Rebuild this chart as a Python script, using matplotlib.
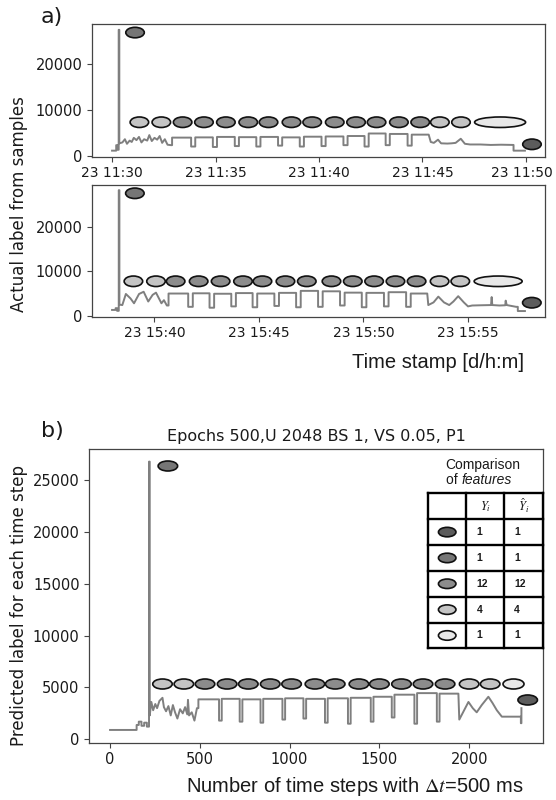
import matplotlib
matplotlib.use("Agg")
import matplotlib.pyplot as plt
from matplotlib.patches import Ellipse
from matplotlib.transforms import ScaledTranslation
from matplotlib.lines import Line2D

# ------------------------------------------------------------------ data
# Panel a (top): minutes after 11:00 on day 23
ta_head_x = [30.00, 30.20, 30.20, 30.27, 30.27, 30.32, 30.32, 30.35, 30.35, 30.50, 30.62, 30.72,
             30.85, 30.95, 31.05, 31.18, 31.30, 31.42, 31.55, 31.70, 31.80, 31.92, 32.05, 32.18,
             32.30, 32.42, 32.55, 32.68, 32.85]
ta_head_y = [1100, 1100, 2300, 2300, 1300, 1300, 27500, 27500, 2700, 2900, 3600, 2600,
             3300, 3000, 3900, 3400, 4100, 2900, 3600, 3300, 4500, 3200, 3900, 3500,
             4300, 2800, 3600, 2400, 2300]
ta_rise = [32.90, 34.02, 35.07, 36.13, 37.17, 38.22, 39.27, 40.32, 41.38, 42.40, 43.42, 44.48]
ta_drop = [33.82, 34.87, 35.93, 36.97, 38.02, 39.07, 40.12, 41.18, 42.20, 43.22, 44.28, 45.30]
ta_level = [3950, 4000, 4100, 4050, 4100, 4000, 4150, 4200, 4300, 4850, 4750, 4600]
ta_low = [2000, 1900, 2100, 2000, 2200, 2000, 2100, 2300, 2000, 2300, 2200]
ta_tail_x = [45.40, 45.55, 45.75, 45.90, 46.20, 46.40, 46.60, 46.85, 47.05, 47.30, 47.80, 48.30,
             48.80, 49.40, 49.40, 49.95]
ta_tail_y = [3000, 2800, 3500, 2700, 2650, 2700, 2800, 3700, 2600, 2450, 2450, 2350,
             2400, 2350, 1100, 1100]
ta_ell_x = [31.32, 32.38, 33.41, 34.44, 35.50, 36.58, 37.56, 38.67, 39.67, 40.76, 41.79, 42.78,
            43.86, 44.89, 45.84, 46.86, 48.75, 31.11, 50.29]
ta_ell_y = [7310] * 17 + [26900, 2490]
ta_ell_cls = [3, 3] + [2] * 12 + [3, 3, 4, 1, 0]
ta_xticks = [30, 35, 40, 45, 50]
ta_xticklabels = ['23 11:30', '23 11:35', '23 11:40', '23 11:45', '23 11:50']

# Panel a (bottom): minutes after 15:00 on day 23
tb_head_x = [37.98, 38.15, 38.15, 38.22, 38.22, 38.30, 38.30, 38.33, 38.33, 38.47, 38.64, 38.86,
             39.03, 39.27, 39.49, 39.71, 39.92, 40.08, 40.34, 40.46, 40.60]
tb_head_y = [1300, 1300, 1700, 1700, 1100, 1100, 28300, 28300, 2500, 2400, 4900, 3900,
             2800, 4900, 5400, 3200, 4700, 5200, 2800, 3500, 2300]
tb_rise = [40.68, 41.84, 42.86, 43.90, 44.92, 45.96, 47.00, 48.05, 49.10, 50.14, 51.20, 52.26]
tb_drop = [41.62, 42.64, 43.68, 44.70, 45.74, 46.78, 47.83, 48.88, 49.92, 50.98, 52.04, 53.05]
tb_level = [5000, 5050, 4950, 5100, 5000, 5150, 5600, 5500, 5200, 5150, 5300, 5000]
tb_low = [2000, 1800, 2100, 1900, 2200, 1900, 2000, 2300, 1900, 2100, 2000]
tb_tail_x = [53.10, 53.35, 53.58, 53.85, 54.10, 54.30, 54.53, 54.80, 55.00, 55.20, 55.60, 56.10,
             56.13, 56.16, 56.50, 56.78, 56.80, 56.85, 57.30, 57.38, 57.38, 57.72]
tb_tail_y = [2400, 3000, 4300, 3000, 2400, 3200, 4400, 3000, 2100, 2300, 2350, 2400,
             4200, 2400, 2300, 2350, 3400, 2400, 2000, 2000, 1050, 1050]
tb_ell_x = [39.00, 40.08, 41.02, 42.12, 43.17, 44.24, 45.17, 46.27, 47.29, 48.47, 49.49, 50.51,
            51.53, 52.54, 53.64, 54.63, 56.44, 39.07, 58.05]
tb_ell_y = [7760] * 17 + [27600, 2930]
tb_ell_cls = [3, 3] + [2] * 12 + [3, 3, 4, 1, 0]
tb_xticks = [40, 45, 50, 55]
tb_xticklabels = ['23 15:40', '23 15:45', '23 15:50', '23 15:55']

# Panel b: time step index (dt = 500 ms)
pb_head_x = [0, 148, 148, 160, 160, 175, 175, 190, 190, 205, 205, 217, 217, 221, 221, 230, 240,
             252, 262, 275, 292, 300, 312, 325, 338, 350, 362, 375, 390, 405, 418, 430, 434,
             440, 455, 470, 484]
pb_head_y = [900, 900, 1380, 1380, 1700, 1700, 1300, 1300, 1600, 1600, 1220, 1220, 26770, 26770,
             2300, 3600, 2800, 3400, 3000, 3700, 4000, 3100, 2700, 3200, 2300, 3300, 2600, 2000,
             2900, 2500, 3100, 2400, 3800, 2300, 2600, 1800, 3000]
pb_rise = [492, 622, 737, 853, 975, 1092, 1212, 1340, 1467, 1584, 1710, 1835]
pb_drop = [607, 722, 838, 960, 1077, 1197, 1325, 1452, 1569, 1695, 1820, 1940]
pb_level = [3850, 3900, 3850, 3900, 3950, 3900, 3950, 4000, 4100, 4300, 4450, 4400]
pb_low = [1800, 1700, 1600, 1900, 2000, 1600, 1500, 1700, 2100, 1500, 1700]
pb_tail_x = [1945, 1960, 1996, 2020, 2042, 2070, 2107, 2130, 2154, 2182, 2288, 2288, 2291, 2291]
pb_tail_y = [1900, 2400, 3600, 3000, 2600, 3300, 4100, 3500, 2800, 2180, 2180, 1550, 1550, 3000]
pb_ell_x = [292, 411, 529, 652, 770, 892, 1011, 1141, 1254, 1386, 1500, 1623, 1743, 1866,
            2000, 2117, 2247, 322, 2326]
pb_ell_y = [5330] * 17 + [26350, 3790]
pb_ell_cls = [3, 3] + [2] * 12 + [3, 3, 4, 1, 0]
pb_xticks = [0, 500, 1000, 1500, 2000]
pb_yticks = [0, 5000, 10000, 15000, 20000, 25000]

# Comparison table
feat_Y = [1, 1, 12, 4, 1]
feat_Yhat = [1, 1, 12, 4, 1]
feat_colors = ['#5c5c5c', '#767676', '#8c8c8c', '#c4c4c4', '#e8e8e8']

title_b = 'Epochs 500,U 2048 BS 1, VS 0.05, P1'

# ------------------------------------------------------------------ helpers
W, H, DPI = 556, 800, 100
fig = plt.figure(figsize=(W / DPI, H / DPI), dpi=DPI)
TXT = '#1a1a1a'
LINE = '#7f7f7f'


def build(head_x, head_y, rise, drop, level, low, tail_x, tail_y):
    xs, ys = list(head_x), list(head_y)
    prev = ys[-1]
    for i in range(len(rise)):
        xs += [rise[i], rise[i], drop[i]]
        ys += [prev, level[i], level[i]]
        if i < len(low):
            xs.append(drop[i])
            ys.append(low[i])
            prev = low[i]
    xs += list(tail_x)
    ys += list(tail_y)
    return xs, ys


def ellipse(ax, x, y, w_px, h_px, fc, coords='data'):
    base = ax.transData if coords == 'data' else ax.transAxes
    tr = fig.dpi_scale_trans + ScaledTranslation(x, y, base)
    e = Ellipse((0, 0), w_px / DPI, h_px / DPI, transform=tr, facecolor=fc,
                edgecolor='#111111', linewidth=1.2, zorder=5, clip_on=False)
    ax.add_artist(e)


def style(ax):
    for s in ax.spines.values():
        s.set_color('#444444')
        s.set_linewidth(0.9)
    ax.tick_params(labelsize=10.5, colors='#444444', labelcolor=TXT, length=3.5, width=0.8)


def rect(l, t, r, b):
    return [l / W, 1 - b / H, (r - l) / W, (b - t) / H]


# ------------------------------------------------------------------ panel a top
ax1 = fig.add_axes(rect(92.2, 24.0, 545.0, 156.7))
x, y = build(ta_head_x, ta_head_y, ta_rise, ta_drop, ta_level, ta_low, ta_tail_x, ta_tail_y)
ax1.plot(x, y, color=LINE, lw=1.4, zorder=3)
ax1.set_xlim(29.04, 50.92)
ax1.set_ylim(-220, 28770)
ax1.set_xticks(ta_xticks)
ax1.set_xticklabels(ta_xticklabels)
ax1.set_yticks([0, 10000, 20000])
for xe, ye, c in zip(ta_ell_x, ta_ell_y, ta_ell_cls):
    w = 51 if c == 4 else 18.5
    ellipse(ax1, xe, ye, w, 10.5, feat_colors[c])
style(ax1)
ax1.tick_params(axis='x', labelsize=10)
last = ax1.get_xticklabels()[-1]
last.set_transform(last.get_transform() + ScaledTranslation(-4 / DPI, 0, fig.dpi_scale_trans))

# ------------------------------------------------------------------ panel a bottom
ax2 = fig.add_axes(rect(92.2, 185.0, 545.0, 316.7))
x, y = build(tb_head_x, tb_head_y, tb_rise, tb_drop, tb_level, tb_low, tb_tail_x, tb_tail_y)
ax2.plot(x, y, color=LINE, lw=1.4, zorder=3)
ax2.set_xlim(37.03, 58.68)
ax2.set_ylim(-225, 29470)
ax2.set_xticks(tb_xticks)
ax2.set_xticklabels(tb_xticklabels)
ax2.set_yticks([0, 10000, 20000])
for xe, ye, c in zip(tb_ell_x, tb_ell_y, tb_ell_cls):
    w = 48 if c == 4 else 18.5
    ellipse(ax2, xe, ye, w, 10.5, feat_colors[c])
style(ax2)
ax2.tick_params(axis='x', labelsize=10)

# ------------------------------------------------------------------ panel b
ax3 = fig.add_axes(rect(89.4, 449.3, 542.6, 742.7))
x, y = build(pb_head_x, pb_head_y, pb_rise, pb_drop, pb_level, pb_low, pb_tail_x, pb_tail_y)
ax3.plot(x, y, color=LINE, lw=1.4, zorder=3)
ax3.set_xlim(-115, 2409)
ax3.set_ylim(-330, 27960)
ax3.set_xticks(pb_xticks)
ax3.set_yticks(pb_yticks)
for xe, ye, c in zip(pb_ell_x, pb_ell_y, pb_ell_cls):
    w = 21 if c == 4 else 19.5
    ellipse(ax3, xe, ye, w, 10, feat_colors[c])
style(ax3)

# comparison table (axes fraction of panel b)
col_x = [0.747, 0.832, 0.9155, 1.0]
row_top, row_h = 0.850, 0.0881
n_rows = len(feat_Y) + 1
row_y = [row_top - i * row_h for i in range(n_rows + 1)]
for cx in col_x:
    ax3.add_line(Line2D([cx, cx], [row_y[-1], row_y[0]], transform=ax3.transAxes,
                        color='black', lw=1.7, zorder=6, clip_on=False))
for ry in row_y:
    ax3.add_line(Line2D([col_x[0], col_x[-1]], [ry, ry], transform=ax3.transAxes,
                        color='black', lw=1.7, zorder=6, clip_on=False))
hdr_y = (row_y[0] + row_y[1]) / 2
ax3.text((col_x[1] + col_x[2]) / 2, hdr_y, r'$Y_i$', transform=ax3.transAxes, fontsize=9,
         ha='center', va='center', math_fontfamily='stix', color=TXT)
ax3.text((col_x[2] + col_x[3]) / 2, hdr_y, r'$\hat{Y}_i$', transform=ax3.transAxes, fontsize=9,
         ha='center', va='center', math_fontfamily='stix', color=TXT)
for i in range(len(feat_Y)):
    cy = (row_y[i + 1] + row_y[i + 2]) / 2
    ellipse(ax3, (col_x[0] + col_x[1]) / 2, cy, 17.5, 9.5, feat_colors[i], coords='axes')
    ax3.text(col_x[1] + 0.022, cy, str(feat_Y[i]), transform=ax3.transAxes, fontsize=7.5,
             ha='left', va='center', family='Liberation Sans', weight='bold', color=TXT)
    ax3.text(col_x[2] + 0.022, cy, str(feat_Yhat[i]), transform=ax3.transAxes, fontsize=7.5,
             ha='left', va='center', family='Liberation Sans', weight='bold', color=TXT)
ax3.text(0.786, 0.9465, 'Comparison', transform=ax3.transAxes, fontsize=10,
         family='Liberation Sans', ha='left', va='center', color=TXT)
ax3.text(0.786, 0.895, 'of ', transform=ax3.transAxes, fontsize=10,
         family='Liberation Sans', ha='left', va='center', color=TXT)
ax3.text(0.822, 0.895, 'features', transform=ax3.transAxes, fontsize=10, style='italic',
         family='Liberation Sans', ha='left', va='center', color=TXT)

# ------------------------------------------------------------------ figure texts
fig.text(51.5 / W, 1 - 17 / H, 'a)', fontsize=16, ha='center', va='center', color=TXT)
fig.text(52 / W, 1 - 431 / H, 'b)', fontsize=16, ha='center', va='center', color=TXT)
fig.text(316 / W, 1 - 436.7 / H, title_b, fontsize=11.5, ha='center', va='center', color=TXT)
fig.text(18.6 / W, 1 - 204 / H, 'Actual label from samples', rotation=90, fontsize=12,
         ha='center', va='center', color=TXT)
fig.text(18.6 / W, 1 - 605 / H, 'Predicted label for each time step', rotation=90, fontsize=12,
         ha='center', va='center', color=TXT)
fig.text(438 / W, 1 - 363 / H, 'Time stamp [d/h:m]', fontsize=14.5, family='Liberation Sans',
         ha='center', va='center', color=TXT)
fig.text(354.5 / W, 1 - 786.7 / H, r'Number of time steps with $\Delta t$=500 ms', fontsize=14.5,
         family='Liberation Sans', ha='center', va='center', color=TXT, math_fontfamily='stix')

fig.savefig('out.png', dpi=DPI)
